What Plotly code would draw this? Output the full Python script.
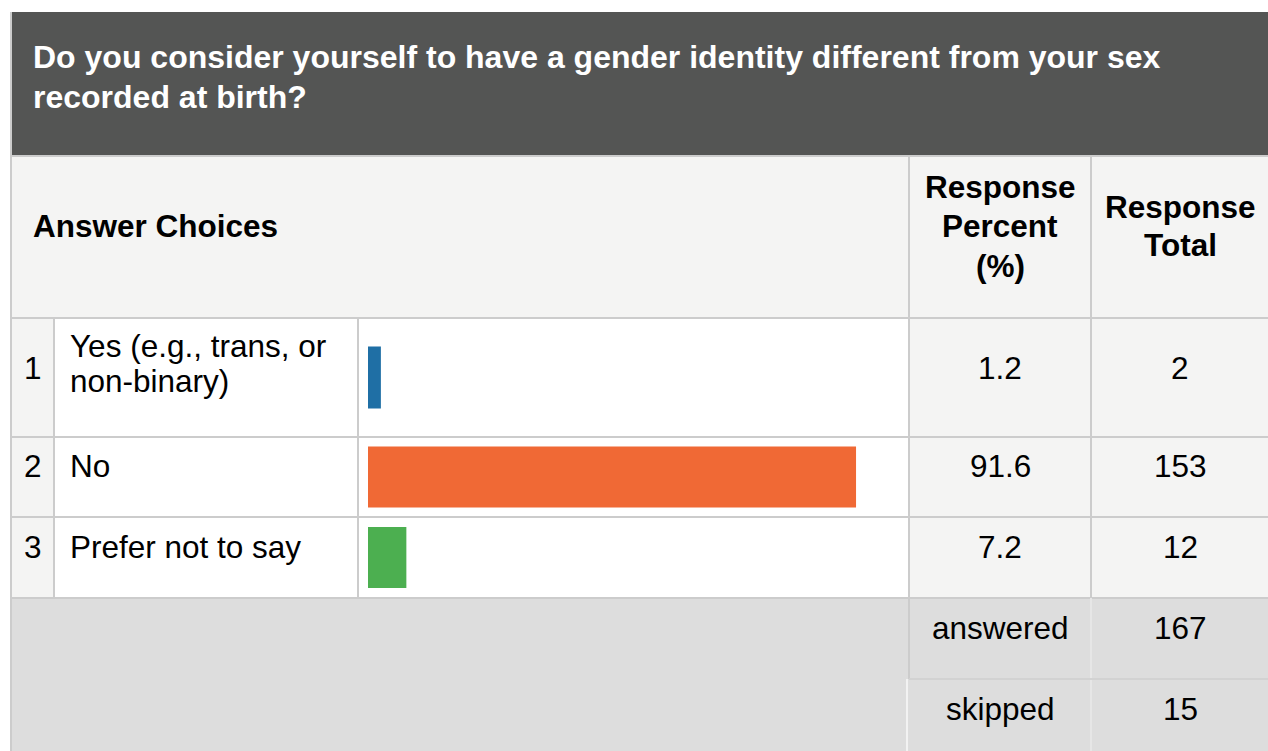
import textwrap
import plotly.graph_objects as go

# survey data
question = "Do you consider yourself to have a gender identity different from your sex recorded at birth?"
choices = ["Yes (e.g., trans, or non-binary)", "No", "Prefer not to say"]
percents = [1.2, 91.6, 7.2]
totals = [2, 153, 12]
summary_labels = ["answered", "skipped"]
summary_values = [167, 15]
bar_colors = ["#1f6fa5", "#f06935", "#4caf50"]

W, H = 1268, 751
FONT = "Liberation Sans, Arial, sans-serif"
FS = 31.5
BORDER = "#cccccc"
DARK = "#545554"
LIGHT = "#f4f4f3"
GREY = "#dddddd"

# table grid in pixels
col_x = [12, 54, 358, 909, 1091, W]
top, head_bot, row_y = 12, 156, [318, 437, 517, 598]
summary_y = [598, 679, H]
# text positions inside rows (text sits near the top of each row)
text_y = [[346, 381], [466], [547]]
num_y = [368, 466, 547]

fig = go.Figure()

# bars in their own axis spanning the bar column
# the tiny first bar gets a same-colour outline so it keeps a minimum width, like the source
fig.add_trace(go.Bar(
    x=percents,
    y=[(row_y[i] + row_y[i + 1]) / 2 for i in range(len(percents))],
    width=[49, 61, 61],
    orientation="h",
    marker=dict(color=bar_colors, line=dict(color=bar_colors, width=[13, 0, 0])),
    xaxis="x2", yaxis="y",
    hoverinfo="skip",
))

shapes = []
def rect(x0, y0, x1, y1, fill, line_w=0, line_c=BORDER):
    shapes.append(dict(type="rect", xref="x", yref="y", x0=x0, y0=y0, x1=x1, y1=y1,
                       fillcolor=fill, line=dict(width=line_w, color=line_c), layer="below"))

def line(x0, y0, x1, y1, w=2, c=BORDER):
    shapes.append(dict(type="line", xref="x", yref="y", x0=x0, y0=y0, x1=x1, y1=y1,
                       line=dict(width=w, color=c), layer="below"))

# backgrounds
rect(col_x[0], top, W, head_bot, DARK)
rect(col_x[0], head_bot, W, row_y[0], LIGHT)
for i in range(3):
    rect(col_x[0], row_y[i], col_x[1], row_y[i + 1], LIGHT)
    rect(col_x[1], row_y[i], col_x[3], row_y[i + 1], "white")
    rect(col_x[3], row_y[i], W, row_y[i + 1], LIGHT)
rect(col_x[0], row_y[-1], W, H, GREY)

# borders
line(11, top, 11, H)
for y in [head_bot] + row_y:
    line(col_x[0], y, W, y)
for x in col_x[1:3]:
    line(x, row_y[0], x, row_y[-1])
for x in col_x[3:5]:
    line(x, head_bot, x, row_y[-1])
line(col_x[3], summary_y[0], col_x[3], summary_y[1])
line(col_x[3] - 2, summary_y[1], col_x[3] - 2, H, c="#f2f2f2")
line(col_x[4], summary_y[0], col_x[4], H, c="#e6e6e6")
line(col_x[3], summary_y[1], W, summary_y[1], c="#d2d2d2")

ann = []
def text(x, y, s, anchor="left", bold=False, color="black", size=FS):
    ann.append(dict(x=x, y=y, xref="x", yref="y", text=s, showarrow=False,
                    xanchor=anchor, yanchor="middle",
                    font=dict(family=FONT, size=size, color=color,
                              weight="bold" if bold else "normal")))

for line_txt, y in zip(textwrap.wrap(question, 75), [57, 97]):
    text(31, y, line_txt, bold=True, color="white", size=32)

text(31, 226, "Answer Choices", bold=True)
pc = (col_x[3] + col_x[4]) / 2
tc = 1180
for s, y in zip(["Response", "Percent", "(%)"], [187, 226, 266]):
    text(pc, y, s, anchor="center", bold=True)
for s, y in zip(["Response", "Total"], [207, 245]):
    text(tc, y, s, anchor="center", bold=True)

for i, choice in enumerate(choices):
    text(33, num_y[i], str(i + 1), anchor="center")
    for s, y in zip(textwrap.wrap(choice, 20), text_y[i]):
        text(68, y, s)
    text(pc, num_y[i], f"{percents[i]:.1f}", anchor="center")
    text(tc, num_y[i], str(totals[i]), anchor="center")

for lab, val, y in zip(summary_labels, summary_values, [628, 709]):
    text(pc, y, lab, anchor="center")
    text(tc, y, str(val), anchor="center")

fig.update_layout(
    width=W, height=H,
    margin=dict(l=0, r=0, t=0, b=0),
    paper_bgcolor="white", plot_bgcolor="rgba(0,0,0,0)",
    showlegend=False,
    xaxis=dict(range=[0, W], domain=[0, 1], visible=False, fixedrange=True),
    yaxis=dict(range=[H, 0], domain=[0, 1], visible=False, fixedrange=True),
    xaxis2=dict(range=[0, 100], domain=[368 / W, 900.8 / W], anchor="y",
                visible=False, fixedrange=True),
    shapes=shapes,
    annotations=ann,
)

fig.write_html("out.html", config={"displayModeBar": False},
               post_script="document.body.style.margin='0';")
